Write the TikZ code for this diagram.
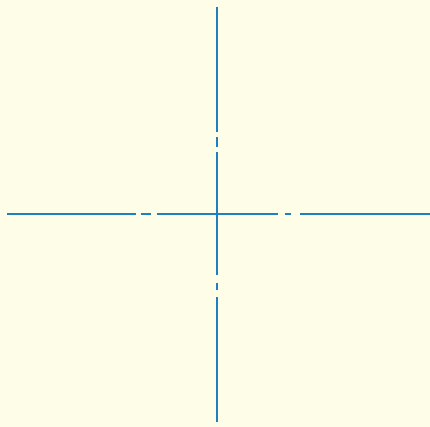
\documentclass[tikz,border=0pt]{standalone}
\usepackage{xcolor}
\usepackage{tikz}
\usetikzlibrary{calc}
\definecolor{paper}{HTML}{FEFDE8}
\definecolor{axisblue}{HTML}{1F7FC1}
\tikzset{
  axisline/.style={draw=axisblue,line width=1.8pt},
  gapdash/.style ={draw=axisblue,line width=1.8pt}
}

\begin{document}
\begin{tikzpicture}[x=1pt,y=-1pt]
    \fill[paper] (0,0) rectangle (430,427);
    \useasboundingbox (0,0) rectangle (430,427);
    % centre and ends of the two axes
    \coordinate (ctr) at (217,214);
    \coordinate (west) at (7,214);
    \coordinate (east) at (430,214);
    \coordinate (north) at (217,7);
    \coordinate (south) at (217,422);
    % horizontal centre line
    \draw[axisline] (west) -- (136,214);
    \draw[gapdash] (141,214) -- (151,214);
    \draw[axisline] (157,214) -- (ctr) -- (278,214);
    \draw[gapdash] (285,214) -- (291,214);
    \draw[axisline] (300,214) -- (east);
    % vertical centre line
    \draw[axisline] (north) -- (217,132);
    \draw[gapdash] (217,137) -- (217,147);
    \draw[axisline] (217,152) -- (ctr) -- (217,275);
    \draw[gapdash] (217,283) -- (217,290);
    \draw[axisline] (217,297) -- (south);
  \end{tikzpicture}
\end{document}
